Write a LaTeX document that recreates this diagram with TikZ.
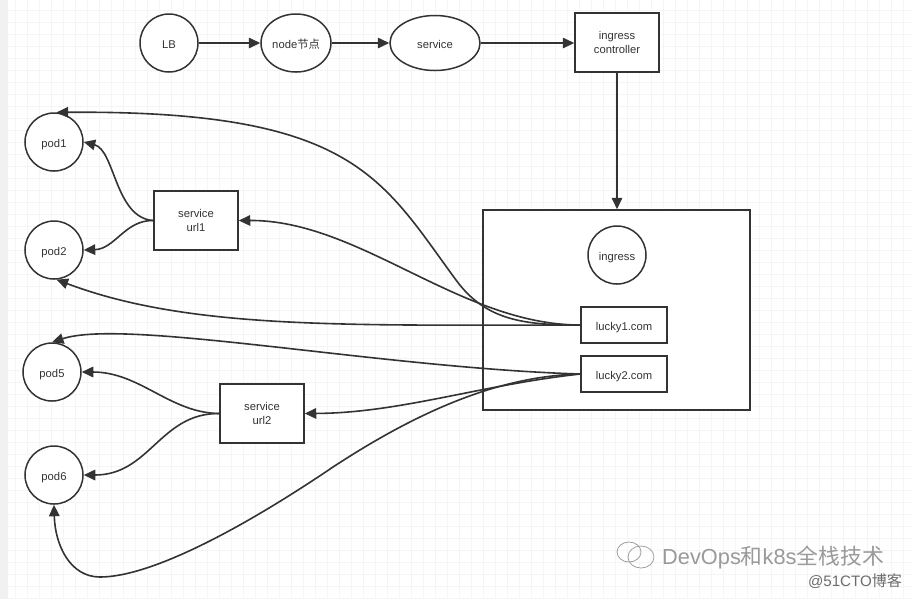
\documentclass[tikz,border=0pt]{standalone}
\usepackage{fontspec}
\setmainfont{Liberation Sans}
\newfontfamily\cjk{Noto Sans CJK SC}
\usetikzlibrary{arrows.meta,shapes.geometric}
\definecolor{inkgray}{HTML}{333333}
\definecolor{gridgray}{HTML}{F5F5F5}
\definecolor{stripgray}{HTML}{F1F1F1}
\definecolor{markgray}{HTML}{9A9A9A}
\tikzset{
    pod/.style={circle, draw=inkgray, line width=0.3mm, fill=white, minimum size=11.6mm, inner sep=0mm, font=\fontsize{6.4}{7.5}\selectfont, text=inkgray, text height=1.5ex, text depth=0.4ex},
    oval/.style={ellipse, draw=inkgray, line width=0.3mm, fill=white, inner sep=0mm, font=\fontsize{6.4}{7.5}\selectfont, text=inkgray, text height=1.5ex, text depth=0.4ex},
    box/.style={rectangle, draw=inkgray, line width=0.3mm, fill=white, minimum width=16.8mm, minimum height=11.8mm, inner sep=0mm, align=center, font=\fontsize{6.4}{7.5}\selectfont, text=inkgray},
    urlbox/.style={box, minimum width=17.2mm, minimum height=7.2mm, text height=1.5ex, text depth=0.4ex},
    link/.style={draw=inkgray, line width=0.32mm, -{Triangle[length=2.3mm, width=2.1mm]}},
    wmtext/.style={inner sep=0mm, text=markgray}
}
\begin{document}
\begin{tikzpicture}[x=0.2mm, y=-0.2mm]
    \useasboundingbox (0,0) rectangle (912,599);
    \fill[white] (0,0) rectangle (912,599);

    % faint paper grid
    \foreach \px in {15,27,...,903} {
        \draw[gridgray, line width=0.12mm] (\px,0) -- (\px,599);
    }
    \foreach \py in {10,22,...,598} {
        \draw[gridgray, line width=0.12mm] (0,\py) -- (912,\py);
    }
    \fill[stripgray] (0,0) rectangle (8,599);

    % top row
    \node (lb) at (169,43) [pod] {LB};
    \node (nodept) at (296,43) [oval, minimum width=14mm, minimum height=11.6mm] {node{\cjk 节点}};
    \node (svc) at (435,43) [oval, minimum width=18mm, minimum height=11mm] {service};
    \node (ctrl) at (617,42.5) [box] {ingress\\controller};

    % ingress block
    \node (block) at (616.5,310) [rectangle, draw=inkgray, line width=0.3mm, fill=white, minimum width=53.4mm, minimum height=40mm] {};
    \node (ingress) at (617,255) [pod] {ingress};
    \node (lucky1) at (624,325) [urlbox] {lucky1.com};
    \node (lucky2) at (624,374) [urlbox] {lucky2.com};

    % pods and services
    \node (pod1) at (54,142) [pod] {pod1};
    \node (pod2) at (54,250) [pod] {pod2};
    \node (pod5) at (52,372) [pod] {pod5};
    \node (pod6) at (54,475) [pod] {pod6};
    \node (url1) at (196,220.5) [box] {service\\url1};
    \node (url2) at (262,413.5) [box] {service\\url2};

    \draw[link] (lb) -- (nodept);
    \draw[link] (nodept) -- (svc);
    \draw[link] (svc) -- (svc -| ctrl.west);
    \draw[link] (ctrl.south) -- (ctrl.south |- block.north);

    \draw[link] (url1.west) .. controls (115,218) and (115,150) .. (pod1.east);
    \draw[link] (url1.west) .. controls (125,220) and (115,249) .. (pod2.east);
    \draw[link] (url2.west) .. controls (170,413) and (140,372) .. (pod5.east);
    \draw[link] (url2.west) .. controls (160,413) and (150,475) .. (pod6.east);

    \draw[link] (lucky1.west) .. controls (525,325) and (486,321) .. (456,280)
        .. controls (381,178) and (354,110) .. (pod1.85);
    \draw[link] (lucky1.west) .. controls (460,325) and (360,220) .. (url1.east);
    \draw[link] (lucky1.west) .. controls (350,325) and (190,330) .. (pod2.-85);
    \draw[link] (lucky2.west) .. controls (380,368) and (125,318) .. (pod5.north);
    \draw[link] (lucky2.west) .. controls (480,385) and (400,413) .. (url2.east);
    \draw[link] (lucky2.west) .. controls (500,376) and (420,410) .. (333,467)
        .. controls (240,530) and (150,577) .. (100,577)
        .. controls (70,577) and (55,545) .. (pod6.south);

    % watermark
    \node (wmark) at (773,557) [wmtext, font=\fontsize{12.4}{14}\selectfont] {DevOps{\cjk 和}k8s{\cjk 全栈技术}};
    \node (wsite) at (855,581) [wmtext, text=markgray!70!black, font=\fontsize{8.6}{10}\selectfont] {@51CTO{\cjk 博客}};
    \draw[markgray, line width=0.15mm] (629,552) ellipse [x radius=12, y radius=10];
    \draw[markgray, line width=0.15mm] (641,557) ellipse [x radius=13, y radius=11];
\end{tikzpicture}
\end{document}
